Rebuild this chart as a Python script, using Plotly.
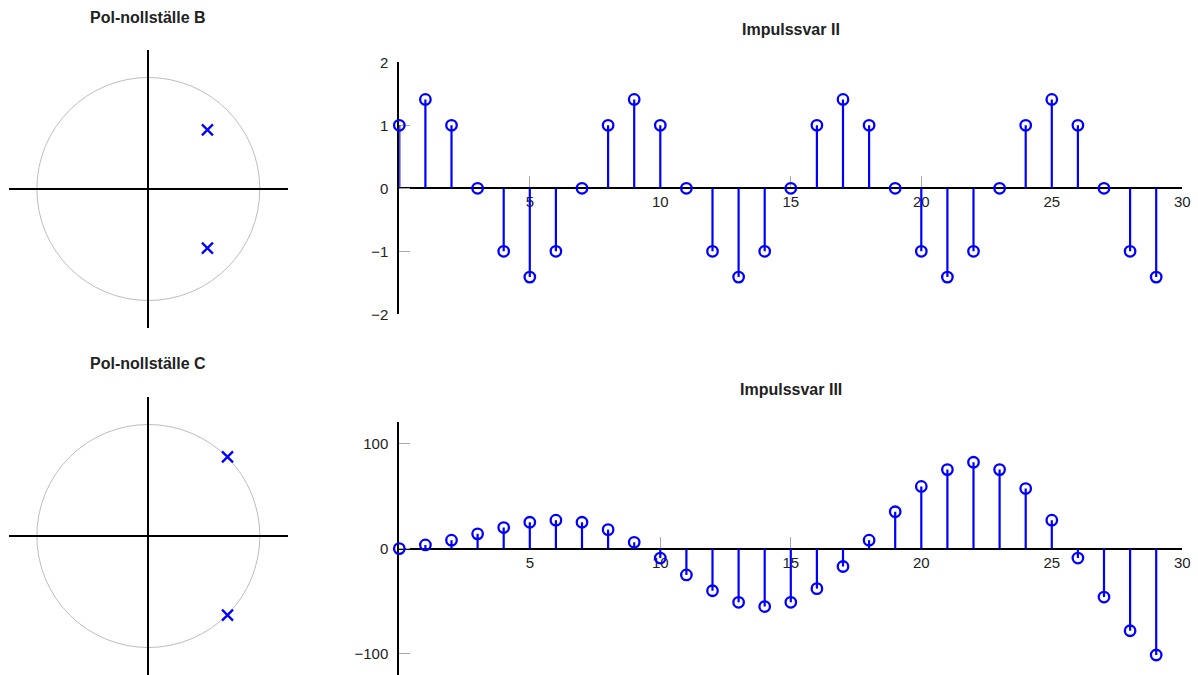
import plotly.graph_objects as go

# ---------------- data ----------------
n = list(range(30))
h_II = [1, 1.41, 1, 0, -1, -1.41, -1, 0,
        1, 1.41, 1, 0, -1, -1.41, -1, 0,
        1, 1.41, 1, 0, -1, -1.41, -1, 0,
        1, 1.41, 1, 0, -1, -1.41]
h_III = [0, 3.5, 8, 14, 20, 25, 27, 25, 18, 6,
         -9, -25, -40, -51, -55, -51, -38, -17, 8, 35,
         59, 75, 82, 75, 57, 27, -9, -46, -78, -101]
polesB_re = [0.53, 0.53]
polesB_im = [0.53, -0.53]
polesC_re = [0.71, 0.71]
polesC_im = [0.71, -0.71]
xticks = [5, 10, 15, 20, 25, 30]
yticks_II = [-2, -1, 0, 1, 2]
yticks_III = [-100, 0, 100]

BLUE = "#0000ff"
FONT = "Liberation Sans"
W, H = 1198, 675

def stems(xv, yv):
    xs, ys = [], []
    for a, b in zip(xv, yv):
        xs += [a, a, None]
        ys += [0, b, None]
    return xs, ys

fig = go.Figure()

# pole-zero plots
for xa, ya, re, im in [("x", "y", polesB_re, polesB_im), ("x3", "y3", polesC_re, polesC_im)]:
    fig.add_trace(go.Scatter(x=re, y=im, mode="markers", xaxis=xa, yaxis=ya,
                             marker=dict(symbol="x-thin", size=11, color=BLUE,
                                         line=dict(color=BLUE, width=2.3)),
                             showlegend=False, hoverinfo="skip"))
    fig.add_shape(type="circle", xref=xa, yref=ya, x0=-1, y0=-1, x1=1, y1=1,
                  line=dict(color="#bdbdbd", width=1), layer="below")

# stem plots
for xa, ya, yv in [("x2", "y2", h_II), ("x4", "y4", h_III)]:
    sx, sy = stems(n, yv)
    fig.add_trace(go.Scatter(x=sx, y=sy, mode="lines", xaxis=xa, yaxis=ya,
                             line=dict(color=BLUE, width=2.2),
                             showlegend=False, hoverinfo="skip"))
    fig.add_trace(go.Scatter(x=n, y=yv, mode="markers", xaxis=xa, yaxis=ya,
                             marker=dict(symbol="circle-open", size=10.5, color=BLUE,
                                         line=dict(color=BLUE, width=2.3)),
                             cliponaxis=False, showlegend=False, hoverinfo="skip"))

pz_common = dict(showgrid=False, zeroline=True, zerolinecolor="black", zerolinewidth=2,
                 showticklabels=False, ticks="", showline=False, fixedrange=True,
                 automargin=False)

tickfont = dict(family=FONT, size=15, color="#222")
xstem = dict(showgrid=False, zeroline=False, showline=True, linecolor="black", linewidth=2,
             ticks="inside", ticklen=11, tickwidth=1, tickcolor="#a8a8a8",
             tickvals=xticks, range=[0, 30], tickfont=tickfont, layer="below traces",
             automargin=False)
ystem = dict(showgrid=False, zeroline=False, showline=True, linecolor="black", linewidth=2,
             ticks="inside", ticklen=11, tickwidth=1, tickcolor="#a8a8a8",
             tickfont=tickfont, layer="below traces", automargin=False,
             ticklabelstandoff=6)

dB = [0.5135, 0.9265]
dC = [0.0, 0.4124]
d2 = [0.5344, 0.9077]
d4 = [0.0, 0.3745]
xdom_pz = [9.0 / W, 287.7 / W]
xdom_st = [399.3 / W, 1182.3 / W]

fig.update_layout(
    template="none",
    width=W, height=H, autosize=False,
    margin=dict(l=0, r=0, t=0, b=0, pad=0, autoexpand=False),
    paper_bgcolor="white", plot_bgcolor="white",
    xaxis=dict(domain=xdom_pz, anchor="y", range=[-1.25, 1.25], **pz_common),
    yaxis=dict(domain=dB, anchor="x", range=[-1.25, 1.25], **pz_common),
    xaxis3=dict(domain=xdom_pz, anchor="y3", range=[-1.25, 1.25], **pz_common),
    yaxis3=dict(domain=dC, anchor="x3", range=[-1.2466, 1.25], **pz_common),
    xaxis2=dict(domain=xdom_st, anchor="free", position=(d2[0] + d2[1]) / 2, **xstem),
    yaxis2=dict(domain=d2, anchor="x2", range=[-2, 2], tickvals=yticks_II, **ystem),
    xaxis4=dict(domain=xdom_st, anchor="free", position=(d4[0] + d4[1]) / 2, **xstem),
    yaxis4=dict(domain=d4, anchor="x4", range=[-120, 120], tickvals=yticks_III, **ystem),
)

titles = [("Pol-nollställe B", 148.3, 17), ("Impulssvar II", 790.8, 30),
          ("Pol-nollställe C", 148.3, 364), ("Impulssvar III", 790.8, 390)]
for t, px, py in titles:
    fig.add_annotation(text="<b>" + t + "</b>", xref="paper", yref="paper",
                       x=px / W, y=1 - py / H, xanchor="center", yanchor="middle",
                       showarrow=False, font=dict(family=FONT, size=16, color="#222"))

fig.write_html("out.html", config={"responsive": False, "displayModeBar": False},
               post_script="document.body.style.margin='0';document.body.style.padding='0';"
                           "document.body.style.overflow='hidden';")
